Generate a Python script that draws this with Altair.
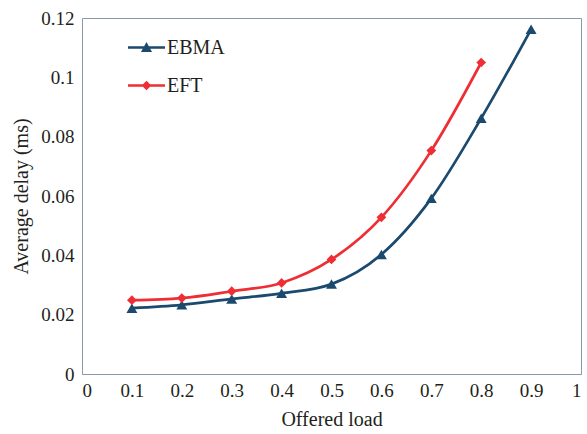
import altair as alt
import pandas as pd

load = [0.1, 0.2, 0.3, 0.4, 0.5, 0.6, 0.7, 0.8, 0.9]
ebma = [0.0222, 0.0233, 0.0253, 0.0272, 0.0303, 0.0403, 0.0592, 0.0862, 0.1162]
eft = [0.0249, 0.0256, 0.0279, 0.0307, 0.0386, 0.0528, 0.0753, 0.1050]
series = ["EBMA", "EFT"]
colors = ["#1c4a6e", "#ee2d34"]
x_ticks = [0, 0.1, 0.2, 0.3, 0.4, 0.5, 0.6, 0.7, 0.8, 0.9, 1]
y_ticks = [0, 0.02, 0.04, 0.06, 0.08, 0.1, 0.12]

rows = [{"load": l, "delay": v, "Series": "EBMA"} for l, v in zip(load, ebma)]
rows += [{"load": l, "delay": v, "Series": "EFT"} for l, v in zip(load, eft)]
df = pd.DataFrame(rows)

FONT = "Times New Roman, Times, serif"
FRAME = "#8a99aa"

x = alt.X("load:Q", title="Offered load",
          scale=alt.Scale(domain=[0, 1], nice=False),
          axis=alt.Axis(values=x_ticks, labelExpr="format(datum.value, '.1~f')",
                        labelPadding=7, titlePadding=9, titleFontSize=20))
y = alt.Y("delay:Q", title="Average delay  (ms)",
          scale=alt.Scale(domain=[0, 0.12], nice=False),
          axis=alt.Axis(values=y_ticks, labelExpr="format(datum.value, '.2~f')",
                        labelPadding=8, titlePadding=9, titleFontSize=20))
color_scale = alt.Scale(domain=series, range=colors)

base = alt.Chart(df)

lines = base.mark_line(strokeWidth=2.7, interpolate="monotone").encode(
    x=x, y=y, color=alt.Color("Series:N", scale=color_scale, legend=None)
)
points = base.mark_point(filled=True, opacity=1).encode(
    x=x, y=y,
    color=alt.Color("Series:N", scale=color_scale, legend=None),
    shape=alt.Shape("Series:N", scale=alt.Scale(domain=series, range=["triangle-up", "diamond"]), legend=None),
    size=alt.Size("Series:N", scale=alt.Scale(domain=series, range=[120, 95]), legend=None),
)

legend_paths = [
    "M-1,-0.07H1V0.07H-1Z M-0.3,0.24L0,-0.3L0.3,0.24Z",
    "M-1,-0.07H1V0.07H-1Z M0,-0.26L0.26,0L0,0.26L-0.26,0Z",
]
legend_layer = base.mark_point(filled=True, opacity=1).encode(
    x=x, y=y,
    color=alt.Color("Series:N", scale=alt.Scale(domain=series, range=colors),
                    legend=alt.Legend(title=None)),
    shape=alt.Shape("Series:N", scale=alt.Scale(domain=series, range=legend_paths),
                    legend=alt.Legend(title=None)),
).transform_filter("false")

chart = alt.layer(lines, points, legend_layer).resolve_scale(
    color="independent", shape="independent"
).properties(
    width=499, height=356,
    autosize=alt.AutoSizeParams(type="none"),
    padding={"left": 82, "top": 18, "right": 6, "bottom": 60},
).configure_view(
    stroke=FRAME, strokeWidth=1
).configure_axis(
    grid=False, ticks=False, domain=False,
    labelFont=FONT, titleFont=FONT, labelFontSize=19,
    labelColor="#231f20", titleColor="#231f20", titleFontWeight="normal",
).configure_legend(
    orient="none", legendX=46, legendY=11,
    labelFont=FONT, labelFontSize=20, labelColor="#231f20",
    symbolSize=1369, symbolStrokeWidth=0, labelOffset=2, rowPadding=9, padding=0,
    symbolOpacity=1,
)

chart.save("out.html", embed_options={"renderer": "svg", "actions": False})
